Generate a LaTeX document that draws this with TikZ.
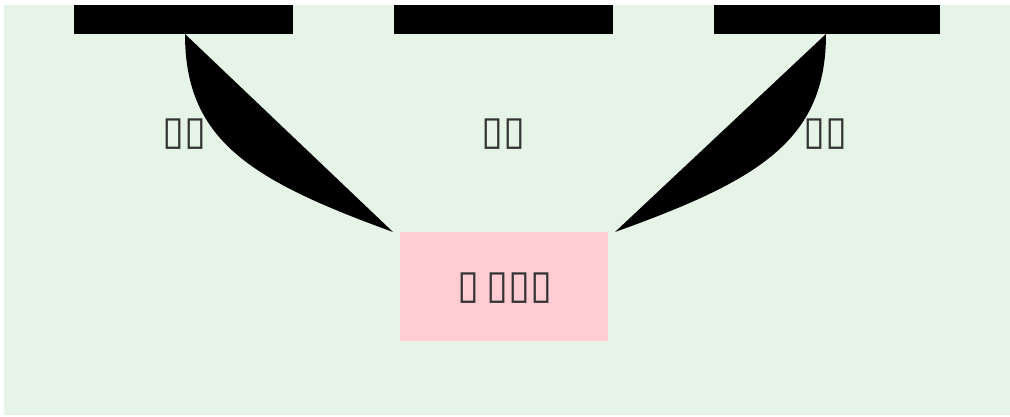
\documentclass[tikz,border=0pt]{standalone}
\usepackage{fontspec}
\newfontfamily\boxfont{DejaVu Sans}
\usetikzlibrary{positioning,calc}
\definecolor{bgGreen}{HTML}{E6F4E8}
\definecolor{boxPink}{HTML}{FFCCD3}
\definecolor{txtDark}{HTML}{333333}
\tikzset{
  sceneA/.style={
    x=1pt, y=-1pt,
    every node/.style={inner sep=0pt, outer sep=0pt},
  },
  topBar/.style={
    fill=black, minimum height=29pt, anchor=north,
  },
  targetBox/.style={
    fill=boxPink, minimum width=208pt, minimum height=109pt,
    font=\boxfont\fontsize{40}{46}\selectfont, text=txtDark,
  },
  edgeLabel/.style={
    font=\boxfont\fontsize{40}{46}\selectfont, text=txtDark,
  },
  wedge/.style={fill=black},
}
\begin{document}
\begin{tikzpicture}[sceneA]

% ============================================================
% Canvas and background panel.
% ============================================================
\useasboundingbox (0,0) rectangle (1010,417);
\fill[bgGreen] (4,5) rectangle (1010,415);

% ============================================================
% Top bars and the target box.
% ============================================================
\node[topBar, minimum width=219pt] (barL) at (183.5,5) {};
\node[topBar, minimum width=219pt] (barM) at (503.5,5) {};
\node[topBar, minimum width=226pt] (barR) at (827,5)   {};

\node[targetBox] (dst) at (504,286.5) {};
\node[edgeLabel] (dstText) at ([xshift=1pt,yshift=-2pt]dst.center) {▯\kern-5pt\ ▯▯▯};

% tips of the two wedges, just beside the box corners
\coordinate (tipL) at ([xshift=-7pt]dst.north west);
\coordinate (tipR) at ([xshift=7pt]dst.north east);

% ============================================================
% Tapered connectors: straight side plus curved side, filled.
% ============================================================
\fill[wedge] ([xshift=1.5pt]barL.south) -- (tipL)
  .. controls (250,180) and (185,140) .. ([xshift=1.5pt]barL.south) -- cycle;
\fill[wedge] ([xshift=-1pt]barR.south) -- (tipR)
  .. controls (760,180) and (826,140) .. ([xshift=-1pt]barR.south) -- cycle;

% Labels under each bar
\node[edgeLabel] (labL) at (185,134) {▯▯};
\node[edgeLabel] (labM) at (504,134) {▯▯};
\node[edgeLabel] (labR) at (826,134) {▯▯};

\end{tikzpicture}
\end{document}
